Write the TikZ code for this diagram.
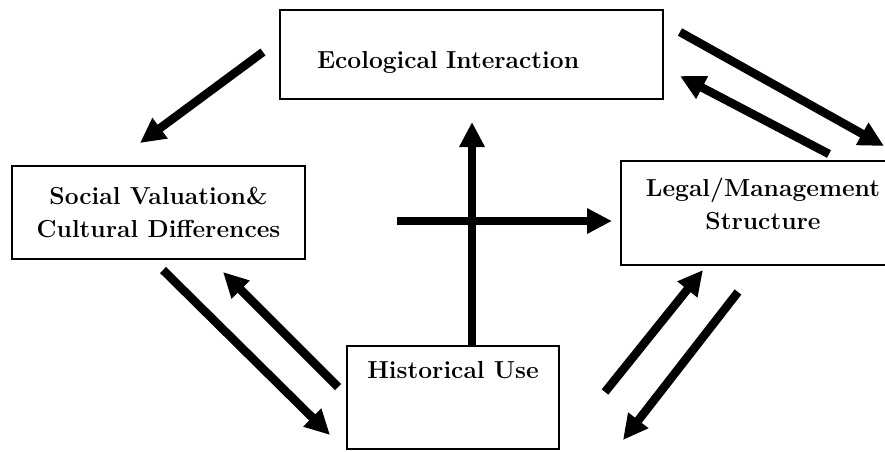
\documentclass[tikz,border=0pt]{standalone}
\usepackage{tikz}
\usetikzlibrary{arrows.meta}

\begin{document}
\begin{tikzpicture}[x=0.02cm, y=-0.02cm,
        box/.style={draw, line width=1pt, inner sep=0pt,
            font=\fontsize{14}{18.8}\selectfont\bfseries},
        flow/.style={line width=0.17cm, -{Triangle[length=0.5cm, width=0.48cm]}}]
        \pgfmathsetmacro{\picW}{885}
        \pgfmathsetmacro{\picH}{451}

        \useasboundingbox (0,0) rectangle (\picW,\picH);
        \clip (0,0) rectangle (\picW,\picH);

        % boxes
        \node[box, minimum width=7.66cm, minimum height=1.78cm, text width=6.18cm,
            align=left, text height=1.16cm, text depth=0.62cm] (eco) at (471.5,54.5)
            {Ecological Interaction};
        \node[box, minimum width=5.86cm, minimum height=1.86cm, align=center] (soc)
            at (158.5,212.5) {Social Valuation\&\\Cultural Differences};
        \node[box, minimum width=5.68cm, minimum height=2.08cm, text width=5.68cm,
            align=center, text height=0.70cm, text depth=1.38cm] (leg) at (763,213)
            {Legal/Management\\Structure};
        \node[box, minimum width=4.24cm, minimum height=2.06cm,
            text height=0.64cm, text depth=1.42cm] (hist) at (453,397.5)
            {Historical Use};

        % arrow ends
        \coordinate (ecoA) at (263,52);   \coordinate (socA) at (140,143);
        \coordinate (ecoB) at (680,32);   \coordinate (legB) at (884,146);
        \coordinate (legC) at (829,154);  \coordinate (ecoC) at (680,76);
        \coordinate (histD) at (472,346); \coordinate (ecoD) at (472,122);
        \coordinate (midE) at (397,221);  \coordinate (legE) at (612,221);
        \coordinate (socF) at (163,270);  \coordinate (histF) at (330,435);
        \coordinate (histG) at (338,387); \coordinate (socG) at (223,272);
        \coordinate (histH) at (605,392); \coordinate (legH) at (703,270);
        \coordinate (legI) at (738,292);  \coordinate (histI) at (623,440);

        \draw[flow] (ecoA) -- (socA);
        \draw[flow] (ecoB) -- (legB);
        \draw[flow] (legC) -- (ecoC);
        \draw[flow] (histD) -- (ecoD);
        \draw[flow] (midE) -- (legE);
        \draw[flow] (socF) -- (histF);
        \draw[flow] (histG) -- (socG);
        \draw[flow] (histH) -- (legH);
        \draw[flow] (legI) -- (histI);
    \end{tikzpicture}
\end{document}
